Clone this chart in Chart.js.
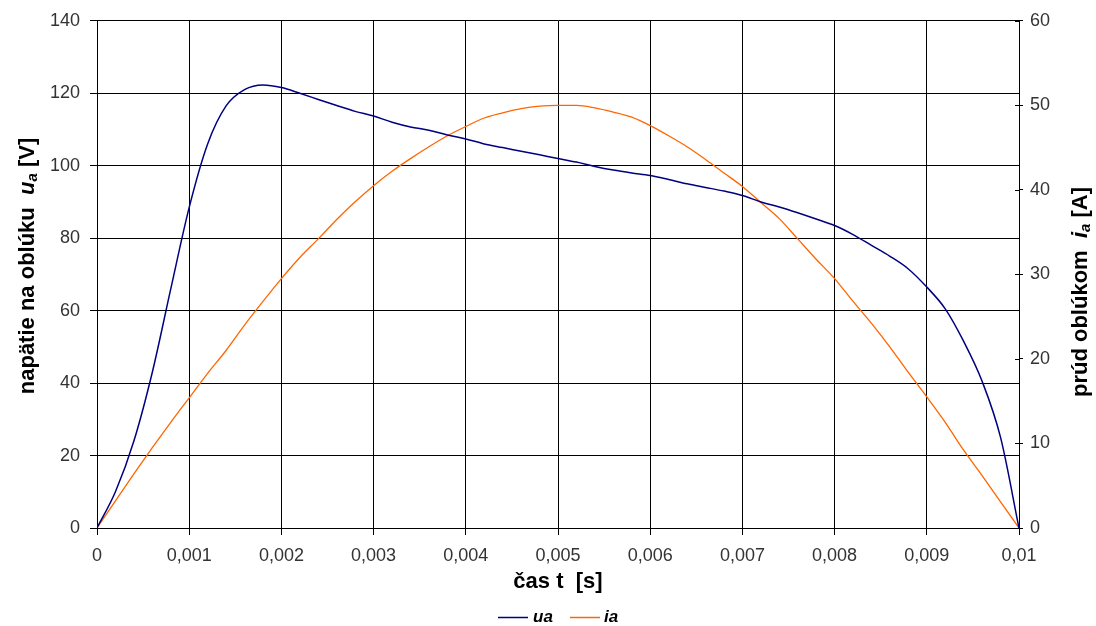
<!DOCTYPE html>
<html>
<head>
<meta charset="utf-8">
<script src="https://cdn.jsdelivr.net/npm/chart.js@4/dist/chart.umd.min.js"></script>
<style>
html,body{margin:0;padding:0;background:#fff;}
#wrap{width:1096px;height:626px;position:relative;}
</style>
</head>
<body>
<div id="wrap"><canvas id="c" width="1096" height="626"></canvas></div>
<script>
// time [s]
const t = [0,0.0002,0.0004,0.0006,0.0008,0.001,0.0012,0.0014,0.0016,0.0018,0.002,
  0.0022,0.0024,0.0026,0.0028,0.003,0.0032,0.0034,0.0036,0.0038,0.004,
  0.0042,0.0044,0.0046,0.0048,0.005,0.0052,0.0054,0.0056,0.0058,0.006,
  0.0062,0.0064,0.0066,0.0068,0.007,0.0072,0.0074,0.0076,0.0078,0.008,
  0.0082,0.0084,0.0086,0.0088,0.009,0.0092,0.0094,0.0096,0.0098,0.01];
// arc voltage ua [V]
const ua = [0,10,24,43,66,88.5,106,116.5,121,122.3,121.6,
  120,118.3,116.6,115,113.7,112,110.7,109.8,108.5,107.4,
  106,105,104,103,102,101,99.8,98.8,98,97.3,
  96.2,95,94,93,91.8,90,88.6,87,85.3,83.5,
  81,78,75,71.5,66.5,60.5,51.5,40.5,25,0];
// arc current ia [A]
const ia = [0,3.2,6.4,9.5,12.5,15.4,18.3,21,24,26.8,29.5,
  32,34.2,36.5,38.6,40.5,42.2,43.7,45.1,46.4,47.5,
  48.5,49.1,49.6,49.9,50,50,49.7,49.2,48.6,47.6,
  46.4,45.1,43.6,42,40.4,38.5,36.6,34.2,31.8,29.5,
  26.8,24.2,21.4,18.4,15.5,12.5,9.2,6.2,3.1,0];
const seriesNames = ['ua','ia'];
const seriesColors = ['#000080','#FF6600'];
const xTitle = 'čas t  [s]';
const yTitleParts = ['napätie na oblúku  ','u','a',' [V]'];
const y1TitleParts = ['prúd oblúkom  ','i','a',' [A]'];

const FONT = 'Arial, "Liberation Sans", sans-serif';
const PLOT_LEFT = 97, PLOT_RIGHT = 1019, PLOT_TOP = 20, PLOT_BOTTOM = 528, H = 626, W = 1096;

function fmtX(v){
  const s = parseFloat(Number(v).toFixed(4)).toString();
  return s.replace('.', ',');
}

function drawRich(ctx, parts, cx, cy){
  const defs = [
    {t:parts[0], f:'bold 22px '+FONT, dy:0},
    {t:parts[1], f:'italic bold 22px '+FONT, dy:0},
    {t:parts[2], f:'italic bold 15px '+FONT, dy:5},
    {t:parts[3], f:'bold 22px '+FONT, dy:0}
  ];
  let total = 0;
  defs.forEach(d=>{ctx.font=d.f; d.w=ctx.measureText(d.t).width; total+=d.w;});
  ctx.save();
  ctx.translate(cx, cy);
  ctx.rotate(-Math.PI/2);
  ctx.fillStyle = '#000';
  ctx.textBaseline = 'middle';
  ctx.textAlign = 'left';
  let x = -total/2;
  defs.forEach(d=>{ctx.font=d.f; ctx.fillText(d.t, x, d.dy); x+=d.w;});
  ctx.restore();
}

const extras = {
  id:'extras',
  afterDraw(chart){
    const ctx = chart.ctx;
    drawRich(ctx, yTitleParts, 28, 266);
    drawRich(ctx, y1TitleParts, 1081, 292);
    const y1 = chart.scales.y1;
    ctx.save();
    ctx.strokeStyle = '#000';
    ctx.lineWidth = 1;
    y1.ticks.forEach(tk=>{
      const py = Math.round(y1.getPixelForValue(tk.value)) + 0.5;
      ctx.beginPath();
      ctx.moveTo(chart.chartArea.right - 4, py);
      ctx.lineTo(chart.chartArea.right, py);
      ctx.stroke();
    });
    // legend
    const items = [{x:498, tx:533}, {x:570, tx:604}];
    ctx.font = 'italic bold 17px ' + FONT;
    ctx.textBaseline = 'middle';
    ctx.textAlign = 'left';
    items.forEach((it, i)=>{
      ctx.strokeStyle = seriesColors[i];
      ctx.lineWidth = 1.5;
      ctx.beginPath();
      ctx.moveTo(it.x, 617.5);
      ctx.lineTo(it.x + 30, 617.5);
      ctx.stroke();
      ctx.fillStyle = '#000';
      ctx.fillText(chart.data.datasets[i].label, it.tx, 617);
    });
    ctx.restore();
  }
};

const ctx = document.getElementById('c').getContext('2d');
new Chart(ctx, {
  type:'line',
  data:{
    datasets:[
      {label:seriesNames[0], data:t.map((x,i)=>({x:x,y:ua[i]})), yAxisID:'y',
       borderColor:seriesColors[0], backgroundColor:seriesColors[0], borderWidth:1.5, pointRadius:0, cubicInterpolationMode:'monotone'},
      {label:seriesNames[1], data:t.map((x,i)=>({x:x,y:ia[i]})), yAxisID:'y1',
       borderColor:seriesColors[1], backgroundColor:seriesColors[1], borderWidth:1.3, pointRadius:0, cubicInterpolationMode:'monotone'}
    ]
  },
  options:{
    responsive:false,
    animation:false,
    devicePixelRatio:1,
    layout:{padding:{top:PLOT_TOP, left:0, right:0, bottom:0}},
    plugins:{
      legend:{display:false},
      tooltip:{enabled:false}
    },
    scales:{
      x:{
        type:'linear', position:'bottom', min:0, max:0.01,
        afterFit(s){ s.height = H - PLOT_BOTTOM; },
        ticks:{stepSize:0.001, callback:(v)=>fmtX(v), font:{family:FONT, size:18}, color:'#333', padding:10, maxRotation:0, autoSkip:false},
        grid:{color:'#000', lineWidth:1, tickLength:7},
        border:{color:'#000', width:1},
        title:{display:true, text:xTitle, font:{family:FONT, size:22, weight:'bold'}, color:'#000', padding:{top:2,bottom:31}}
      },
      y:{
        position:'left', min:0, max:140,
        afterFit(s){ s.width = PLOT_LEFT; },
        ticks:{stepSize:20, font:{family:FONT, size:18}, color:'#333', padding:10},
        grid:{color:'#000', lineWidth:1, tickLength:7},
        border:{color:'#000', width:1}
      },
      y1:{
        position:'right', min:0, max:60,
        afterFit(s){ s.width = W - PLOT_RIGHT; },
        ticks:{stepSize:10, font:{family:FONT, size:18}, color:'#333', padding:7},
        grid:{drawOnChartArea:false, color:'#000', lineWidth:1, tickLength:4},
        border:{color:'#000', width:1}
      }
    }
  },
  plugins:[extras]
});
</script>
</body>
</html>
